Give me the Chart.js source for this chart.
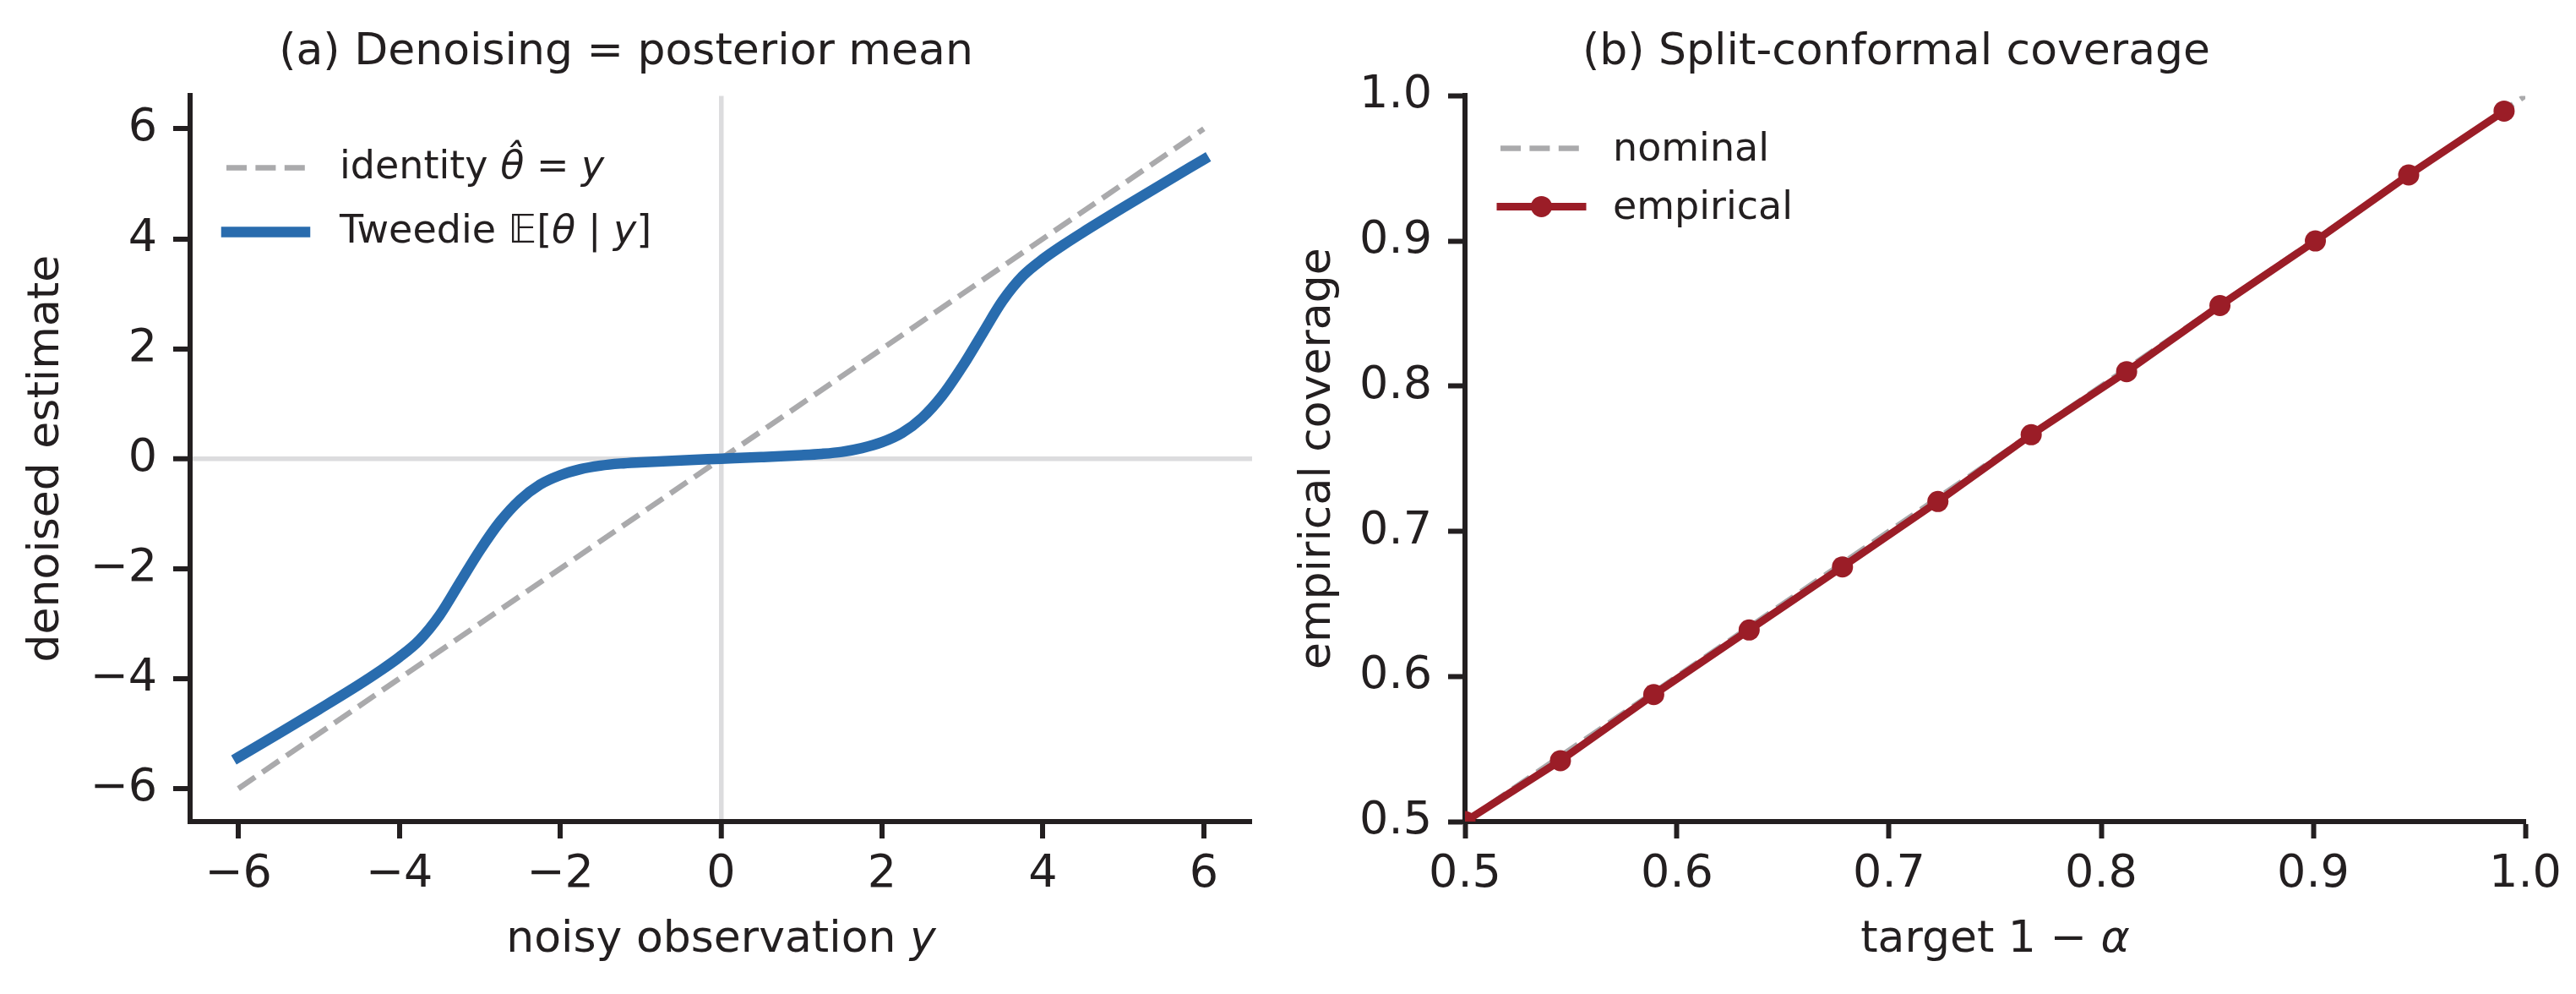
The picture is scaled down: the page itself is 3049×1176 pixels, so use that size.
<!DOCTYPE html>
<html>
<head>
<meta charset="utf-8">
<title>Denoising and split-conformal coverage</title>
<script src="https://cdn.jsdelivr.net/npm/chart.js@4.4.1/dist/chart.umd.min.js"></script>
<style>
  html, body { margin: 0; padding: 0; background: #fff; overflow: hidden; }
  #wrap { position: relative; width: 3049px; height: 1176px; overflow: hidden; }
  canvas { position: absolute; top: 0; }
  #left { left: 0; }
  #right { left: 1500px; }
</style>
</head>
<body>
<div id="wrap">
  <canvas id="left" width="1707" height="1176"></canvas>
  <canvas id="right" width="1723" height="1176"></canvas>
</div>
<script>
// (a) posterior mean
const noisyObs = [-6, -5.5, -5, -4.5, -4.25, -4, -3.75, -3.5, -3.25, -3, -2.75, -2.5, -2.25, -2, -1.75, -1.5, -1.25, -1, -0.5,
  0, 0.5, 1, 1.25, 1.5, 1.75, 2, 2.25, 2.5, 2.75, 3, 3.25, 3.5, 3.75, 4, 4.25, 4.5, 5, 5.5, 6];
const tweedieMean = [-5.43, -5.0, -4.56, -4.11, -3.87, -3.61, -3.30, -2.85, -2.26, -1.67, -1.15, -0.75, -0.47, -0.30, -0.19, -0.125, -0.087, -0.065, -0.03,
  0, 0.03, 0.065, 0.088, 0.125, 0.194, 0.30, 0.47, 0.745, 1.15, 1.68, 2.28, 2.875, 3.325, 3.63, 3.885, 4.12, 4.57, 5.01, 5.445];
const identityX = [-6, 6];
const identityY = [-6, 6];
const ticksA = [-6, -4, -2, 0, 2, 4, 6];

// (b) coverage
const targetLevels = [0.5, 0.545, 0.589, 0.634, 0.678, 0.723, 0.767, 0.812, 0.856, 0.901, 0.945, 0.99];
const empiricalCov = [0.5, 0.542, 0.5875, 0.632, 0.6755, 0.7205, 0.7665, 0.81, 0.8555, 0.90, 0.9455, 0.9895];
const nominalX = [0.5, 1.0];
const nominalY = [0.5, 1.0];

const TEXT = '#231f20';
const BLUE = '#296cae';
const RED = '#9b1d27';
const GREY = '#aaaaac';
const ZERO = '#dcdcde';
const FONT = '"DejaVu Sans"';

Chart.defaults.font.family = FONT;
Chart.defaults.color = TEXT;

const pts = (xs, ys) => xs.map((x, i) => ({ x: x, y: ys[i] }));
const minus = v => (v < 0 ? '\u2212' + Math.abs(v) : String(v));

function richText(ctx, parts, x, y, size, align) {
  const fontOf = it => (it ? 'italic ' : '') + size + 'px ' + FONT;
  let w = 0;
  for (const [t, it] of parts) { ctx.font = fontOf(it); w += ctx.measureText(t).width; }
  let cx = align === 'center' ? x - w / 2 : x;
  ctx.textAlign = 'left';
  ctx.textBaseline = 'alphabetic';
  ctx.fillStyle = TEXT;
  for (const [t, it] of parts) {
    ctx.font = fontOf(it);
    ctx.fillText(t, cx, y);
    cx += ctx.measureText(t).width;
  }
}

function sample(ctx, x0, x1, y, style) {
  ctx.save();
  ctx.strokeStyle = style.color;
  ctx.lineWidth = style.width;
  ctx.setLineDash(style.dash || []);
  ctx.lineCap = style.dash ? 'butt' : 'square';
  ctx.beginPath();
  ctx.moveTo(x0, y);
  ctx.lineTo(x1, y);
  ctx.stroke();
  if (style.marker) {
    ctx.fillStyle = style.color;
    ctx.beginPath();
    ctx.arc((x0 + x1) / 2, y, style.marker, 0, Math.PI * 2);
    ctx.fill();
  }
  ctx.restore();
}

// legend + x-axis title with italic math parts
function extras(xTitle, legend) {
  return {
    id: 'extras',
    afterDraw(chart) {
      const ctx = chart.ctx;
      const a = chart.chartArea;
      ctx.save();
      richText(ctx, xTitle, (a.left + a.right) / 2, a.bottom + 154, 52, 'center');
      legend.forEach(e => {
        sample(ctx, a.left + e.x0, a.left + e.x1, a.top + e.y, e.style);
        richText(ctx, e.parts, a.left + e.tx, a.top + e.y + e.base, 46, 'left');
      });
      ctx.restore();
    }
  };
}

function axisCommon(extra) {
  return Object.assign({
    type: 'linear',
    border: { display: true, color: TEXT, width: 6 },
    grid: {
      drawOnChartArea: false, drawTicks: true, tickLength: 20,
      tickColor: TEXT, tickWidth: 6, color: 'rgba(0,0,0,0)'
    }
  }, extra);
}

const zeroGrid = {
  drawOnChartArea: true, drawTicks: true, tickLength: 20, tickColor: TEXT, tickWidth: 6,
  color: c => (c.tick && c.tick.value === 0 ? ZERO : 'rgba(0,0,0,0)'),
  lineWidth: c => (c.tick && c.tick.value === 0 ? 5.5 : 0)
};

new Chart(document.getElementById('left'), {
  type: 'line',
  data: {
    datasets: [
      {
        label: 'Tweedie', data: pts(noisyObs, tweedieMean), order: 0,
        borderColor: BLUE, borderWidth: 12.5, borderCapStyle: 'square', borderJoinStyle: 'round',
        cubicInterpolationMode: 'monotone', pointRadius: 0, fill: false
      },
      {
        label: 'identity', data: pts(identityX, identityY), order: 1,
        borderColor: GREY, borderWidth: 6.5, borderDash: [24, 10.4], borderCapStyle: 'butt',
        pointRadius: 0, fill: false
      }
    ]
  },
  options: {
    responsive: false, animation: false, devicePixelRatio: 1, events: [],
    layout: { padding: { left: 0, top: 0, right: 225, bottom: 0 } },
    plugins: {
      legend: { display: false }, tooltip: { enabled: false },
      title: {
        display: true, text: '(a) Denoising = posterior mean', color: TEXT,
        font: { size: 52, weight: 'normal' }, padding: { top: 31, bottom: 20 }
      }
    },
    scales: {
      x: axisCommon({
        min: -6.6, max: 6.6, grid: zeroGrid,
        ticks: { stepSize: 2, includeBounds: false, padding: 11, font: { size: 54 }, color: TEXT, callback: v => minus(v), maxRotation: 0 },
        afterBuildTicks: s => { s.ticks = ticksA.map(v => ({ value: v })); },
        afterFit: s => { s.height = 204; }
      }),
      y: axisCommon({
        min: -6.6, max: 6.6, grid: zeroGrid,
        ticks: { stepSize: 2, includeBounds: false, padding: 19, font: { size: 54 }, color: TEXT, callback: v => minus(v) },
        afterBuildTicks: s => { s.ticks = ticksA.map(v => ({ value: v })); },
        title: { display: true, text: 'denoised estimate', color: TEXT, font: { size: 52 }, padding: { top: 24, bottom: 0 } },
        afterFit: s => { s.width = 225; }
      })
    }
  },
  plugins: [extras(
    [['noisy observation ', false], ['y', true]],
    [
      { x0: 43, x1: 136, y: 85, tx: 177, base: 12.5, style: { color: GREY, width: 6.5, dash: [24, 10.4] },
        parts: [['identity ', false], ['\u03b8\u0302', true], [' = ', false], ['y', true]] },
      { x0: 43, x1: 136, y: 161, tx: 177, base: 12.5, style: { color: BLUE, width: 12.5 },
        parts: [['Tweedie ', false], ['\ud835\udd3c', true], ['[', false], ['\u03b8', true], [' | ', false], ['y', true], [']', false]] }
    ]
  )]
});

new Chart(document.getElementById('right'), {
  type: 'line',
  data: {
    datasets: [
      {
        label: 'empirical', data: pts(targetLevels, empiricalCov), order: 0, clip: 0,
        borderColor: RED, borderWidth: 9, borderCapStyle: 'square', borderJoinStyle: 'round',
        pointRadius: 12.5, pointBorderWidth: 0, pointBackgroundColor: RED, pointBorderColor: RED,
        tension: 0, fill: false
      },
      {
        label: 'nominal', data: pts(nominalX, nominalY), order: 1, clip: 0,
        borderColor: GREY, borderWidth: 6.5, borderDash: [24, 10.4], borderCapStyle: 'butt',
        pointRadius: 0, fill: false
      }
    ]
  },
  options: {
    responsive: false, animation: false, devicePixelRatio: 1, events: [],
    layout: { padding: { left: 0, top: 0, right: 234, bottom: 0 } },
    plugins: {
      legend: { display: false }, tooltip: { enabled: false },
      title: {
        display: true, text: '(b) Split-conformal coverage', color: TEXT,
        font: { size: 52, weight: 'normal' }, padding: { top: 31, bottom: 20 }
      }
    },
    scales: {
      x: axisCommon({
        min: 0.5, max: 1.0,
        ticks: { stepSize: 0.1, padding: 11, font: { size: 54 }, color: TEXT, callback: v => v.toFixed(1), maxRotation: 0 },
        afterFit: s => { s.height = 204; }
      }),
      y: axisCommon({
        min: 0.5, max: 1.0,
        ticks: { stepSize: 0.1, padding: 19, font: { size: 54 }, color: TEXT, callback: v => v.toFixed(1) },
        title: { display: true, text: 'empirical coverage', color: TEXT, font: { size: 52 }, padding: { top: 29, bottom: 0 } },
        afterFit: s => { s.width = 234; }
      })
    }
  },
  plugins: [extras(
    [['target 1 \u2212 ', false], ['\u03b1', true]],
    [
      { x0: 42, x1: 139, y: 62, tx: 175, base: 15, style: { color: GREY, width: 6.5, dash: [24, 10.4] },
        parts: [['nominal', false]] },
      { x0: 42, x1: 139, y: 131, tx: 175, base: 15, style: { color: RED, width: 9, marker: 12.5 },
        parts: [['empirical', false]] }
    ]
  )]
});
</script>
</body>
</html>
